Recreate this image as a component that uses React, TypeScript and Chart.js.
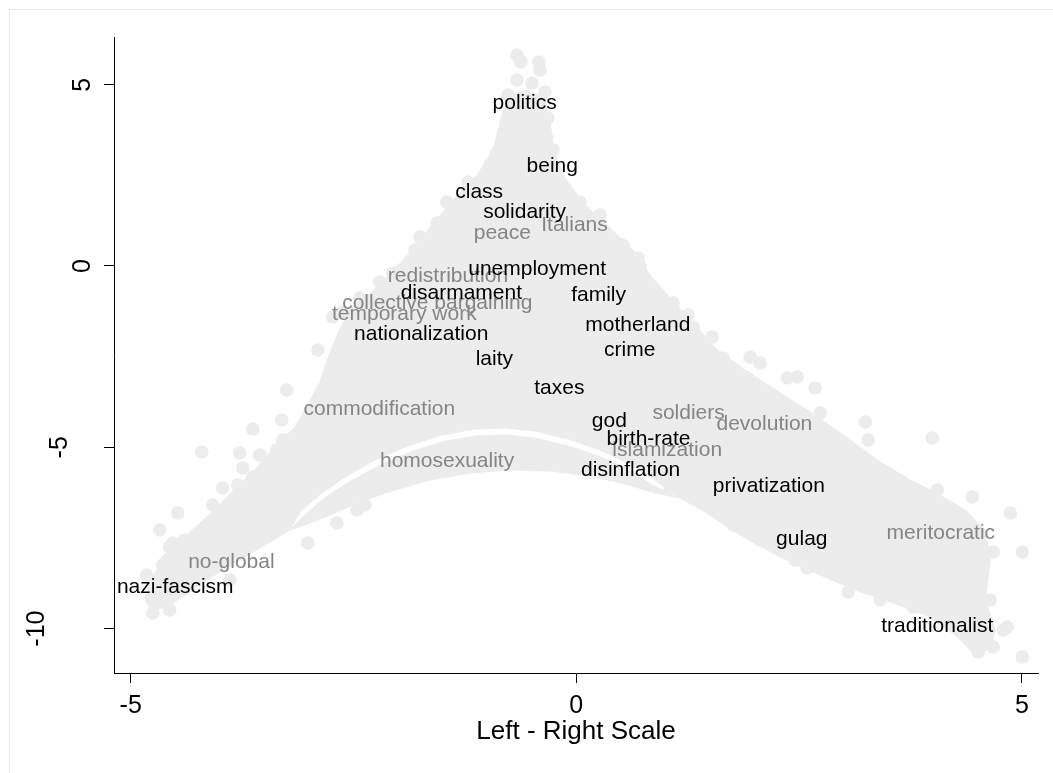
import React, { useEffect, useRef } from "react";
import { Chart, registerables } from "chart.js";

Chart.register(...registerables);

// ---------- data ----------
const xTicks = [-5, 0, 5];
const yTicks = [-10, -5, 0, 5];
const xTitle = "Left - Right Scale";

// highlighted words
const wordText = [
  "politics", "being", "class", "solidarity", "Italians", "peace", "unemployment",
  "redistribution", "disarmament", "family", "collective bargaining", "temporary work",
  "nationalization", "motherland", "crime", "laity", "taxes", "commodification", "god",
  "soldiers", "devolution", "birth-rate", "islamization", "homosexuality", "disinflation",
  "privatization", "gulag", "meritocratic", "traditionalist", "no-global", "nazi-fascism",
];
const wordX = [
  -0.58, -0.27, -1.09, -0.58, -0.02, -0.83, -0.44, -1.44, -1.29, 0.25, -1.56, -1.93,
  -1.74, 0.69, 0.6, -0.92, -0.19, -2.21, 0.37, 1.26, 2.11, 0.81, 1.02, -1.45, 0.61,
  2.16, 2.53, 4.09, 4.05, -3.87, -4.5,
];
const wordY = [
  4.49, 2.76, 2.03, 1.48, 1.13, 0.9, -0.08, -0.29, -0.74, -0.81, -1.03, -1.32, -1.88,
  -1.63, -2.32, -2.56, -3.36, -3.95, -4.29, -4.06, -4.37, -4.77, -5.07, -5.38, -5.63,
  -6.07, -7.54, -7.36, -9.93, -8.18, -8.86,
];
const wordGrey = [
  0, 0, 0, 0, 1, 1, 0, 1, 0, 0, 1, 1, 0, 0, 0, 0, 0, 1, 0, 1, 1, 0, 1, 1, 0, 0, 0, 1, 0, 1, 0,
];

// dense part of the word cloud (outline of the solid region)
const coreX = [
  -0.823, -0.767, -0.554, -0.351, -0.295, -0.262, -0.127, 0.098, 0.378, 0.637, 0.827, 1.074,
  1.333, 1.557, 1.894, 2.287, 2.68, 3.073, 3.41, 3.747, 4.083, 4.364, 4.589, 4.645, 4.589,
  4.701, 4.645, 4.443, 4.252, 3.915, 3.522, 3.129, 2.736, 2.287, 1.838, 1.445, 1.164, 0.884,
  0.603, 0.266, -0.093, -0.464, -0.8, -1.137, -1.508, -1.89, -2.26, -2.597, -2.9, -3.102,
  -3.214, -3.495, -3.776, -4.056, -4.337, -4.562, -4.764, -4.842, -4.764, -4.607, -4.393,
  -4.112, -3.866, -3.607, -3.383, -3.158, -3.012, -2.878, -2.788, -2.675, -2.541, -2.294,
  -2.069, -1.845, -1.62, -1.362, -1.104, -0.935, -0.823,
];
const coreY = [
  4.247, 4.688, 4.854, 4.633, 4.026, 3.254, 2.427, 1.682, 1.048, 0.441, -0.248, -0.938,
  -1.627, -2.261, -2.868, -3.502, -4.109, -4.799, -5.405, -5.902, -6.315, -6.729, -7.281,
  -8.108, -9.211, -10.039, -10.59, -10.645, -10.176, -9.625, -9.266, -8.935, -8.522, -8.025,
  -7.419, -6.784, -6.398, -5.902, -5.461, -5.074, -4.771, -4.55, -4.468, -4.495, -4.661,
  -4.964, -5.35, -5.819, -6.343, -6.784, -7.281, -7.694, -8.108, -8.522, -8.991, -9.349,
  -9.542, -9.156, -8.605, -8.025, -7.474, -6.839, -6.233, -5.626, -4.992, -4.44, -3.833,
  -3.199, -2.537, -1.848, -1.213, -0.717, -0.165, 0.441, 1.131, 1.875, 2.537, 3.199, 4.247,
];

// thin lower band of the cloud, below the empty arc
const bandX = [
  -3.214, -3.035, -2.81, -2.53, -2.193, -1.833, -1.463, -1.115, -0.778, -0.441, -0.093,
  0.244, 0.558, 0.85, 1.164, 0.884, 0.547, 0.154, -0.295, -0.744, -1.193, -1.643, -2.035,
  -2.428, -2.765, -3.046, -3.214,
];
const bandY = [
  -7.281, -6.839, -6.371, -5.929, -5.488, -5.102, -4.826, -4.688, -4.661, -4.757, -4.964,
  -5.24, -5.571, -6.04, -6.398, -6.26, -6.012, -5.791, -5.654, -5.626, -5.709, -5.902,
  -6.178, -6.508, -6.867, -7.143, -7.281,
];

// individual words around the fringe of the cloud
const dotX = [
  -0.666, -0.621, -0.419, -0.408, -0.666, -0.497, -0.351, -0.767, -0.666, -0.318, -0.329,
  -0.722, -0.823, -0.262, -0.969, -0.89, -0.576, -0.464,
  -1.216, -1.452, -1.564, -1.755, -1.811, -2.058, -2.204, -2.428, -2.619, -2.732, -2.597,
  -2.9, -2.574, -2.765, -3.248, -3.304, -3.63, -3.293, -4.202, -3.776, -3.551, -3.36,
  -3.742, -3.63, -3.967, -3.798, -4.079, -4.472, -4.674, -4.191, -4.562, -4.393, -4.64,
  -4.82, -4.696, -4.562, -4.752, -3.888, -3.012, -2.687, -2.462, -2.372, -4.584, -4.528,
  -0.071, 0.042, 0.266, 0.524, 0.693, 0.715, 0.94, 1.086, 1.254, 1.31, 1.524, 1.479, 1.647,
  1.95, 2.062, 1.726, 1.916, 2.366, 2.478, 2.68, 2.175, 2.287, 2.736, 2.759, 3.241, 3.993,
  3.275, 3.264, 3.039, 3.657, 4.05, 4.443, 4.869, 5.004, 4.678, 4.308, 4.162, 4.005, 3.825,
  3.05, 3.78, 4.005, 4.162, 4.499, 4.645, 4.51, 4.791, 4.678, 4.51, 5.004, 4.836, 3.41,
  1.052, 1.389, 1.647, 1.759, 2.287, 2.455, 2.59, 2.062,
];
const dotY = [
  5.819, 5.626, 5.626, 5.405, 5.13, 5.047, 4.799, 4.716, 4.026, 4.082, 3.558, 3.668, 3.282,
  3.199, 2.785, 3.116, 4.357, 4.578,
  2.317, 1.765, 1.186, 0.8, 0.441, -0.193, -0.441, -0.883, -1.269, -1.407, -2.041, -2.317,
  -2.537, -3.144, -3.42, -4.247, -4.495, -4.799, -5.13, -5.157, -5.212, -5.074, -5.571,
  -5.819, -6.122, -6.04, -6.591, -6.812, -7.281, -7.281, -7.75, -7.556, -8.246, -8.522,
  -9.211, -9.487, -9.57, -8.66, -7.639, -7.088, -6.729, -6.591, -8.108, -7.639,
  1.737, 1.765, 1.407, 0.579, 0.221, 0, -0.855, -1.02, -1.351, -1.682, -1.958, -2.317,
  -2.537, -2.51, -2.675, -3.282, -3.089, -3.089, -3.061, -3.365, -3.613, -3.778, -4.054,
  -4.523, -4.302, -4.744, -4.799, -5.35, -5.543, -6.095, -6.178, -6.371, -6.812, -7.887,
  -7.887, -7.75, -8.025, -6.536, -6.646, -8.991, -9.404, -9.404, -9.018, -8.742, -9.211,
  -9.404, -10.039, -10.507, -10.645, -10.783, -9.956, -9.211,
  -6.095, -6.453, -6.867, -7.143, -7.832, -8.108, -8.329, -7.556,
];

// ---------- style ----------
const FONT = '"Liberation Sans", Arial, Helvetica, sans-serif';
const CLOUD = "#ececec";
const GREY_TEXT = "#858585";

const pts = (xs: number[], ys: number[]) => xs.map((x, i) => ({ x, y: ys[i] }));

const framePlugin = {
  id: "frame",
  beforeDraw(chart: any) {
    const { ctx, width, height } = chart;
    ctx.save();
    ctx.fillStyle = "#ffffff";
    ctx.fillRect(0, 0, width, height);
    ctx.fillStyle = "#e8e8e8";
    ctx.fillRect(9, 9, width - 9, 1);
    ctx.fillRect(9, 9, 1, height - 9);
    ctx.restore();
  },
};

const yLabelPlugin = {
  id: "yLabels",
  afterDraw(chart: any) {
    const ys = chart.scales.y;
    const ctx = chart.ctx;
    ctx.save();
    ctx.font = `25px ${FONT}`;
    ctx.fillStyle = "#000";
    ctx.textAlign = "center";
    ctx.textBaseline = "middle";
    for (const v of yTicks) {
      const label = String(v);
      const py = ys.getPixelForValue(v);
      const cx = ys.right - 8 - 23 * label.length;
      ctx.save();
      ctx.translate(cx, py);
      ctx.rotate(-Math.PI / 2);
      ctx.fillText(label, 0, 0);
      ctx.restore();
    }
    ctx.restore();
  },
};

const wordPlugin = {
  id: "words",
  afterDatasetsDraw(chart: any) {
    const meta = chart.getDatasetMeta(3);
    const ctx = chart.ctx;
    ctx.save();
    ctx.font = `21px ${FONT}`;
    ctx.textAlign = "center";
    ctx.textBaseline = "middle";
    for (const pass of [1, 0]) {
      ctx.fillStyle = pass ? GREY_TEXT : "#000";
      wordText.forEach((w, i) => {
        if (wordGrey[i] !== pass) return;
        const el = meta.data[i];
        ctx.fillText(w, el.x, el.y);
      });
    }
    ctx.restore();
  },
};

export default function App() {
  const ref = useRef<HTMLCanvasElement | null>(null);

  useEffect(() => {
    if (!ref.current) return;
    const chart = new Chart(ref.current, {
      type: "line",
      data: {
        datasets: [
          {
            label: "cloud core",
            data: pts(coreX, coreY),
            fill: "shape",
            backgroundColor: CLOUD,
            borderColor: CLOUD,
            borderWidth: 1,
            pointRadius: 0,
            tension: 0,
          },
          {
            label: "cloud band",
            data: pts(bandX, bandY),
            fill: "shape",
            backgroundColor: CLOUD,
            borderColor: CLOUD,
            borderWidth: 1,
            pointRadius: 0,
            tension: 0,
          },
          {
            label: "words",
            data: pts(dotX, dotY),
            showLine: false,
            pointRadius: 6.8,
            pointBackgroundColor: CLOUD,
            pointBorderWidth: 0,
            pointBorderColor: CLOUD,
          },
          {
            label: "labelled words",
            data: pts(wordX, wordY),
            showLine: false,
            pointRadius: 0,
          },
        ],
      } as any,
      options: {
        animation: false,
        responsive: false,
        devicePixelRatio: 1,
        events: [],
        layout: { padding: { left: 0, top: 37, right: 15, bottom: 0 } },
        plugins: { legend: { display: false }, tooltip: { enabled: false } },
        scales: {
          x: {
            type: "linear",
            min: -5.187,
            max: 5.18,
            afterBuildTicks: (s: any) => {
              s.ticks = xTicks.map((v) => ({ value: v }));
            },
            afterFit: (s: any) => {
              s.height = 100;
            },
            grid: {
              display: true,
              drawOnChartArea: false,
              drawTicks: true,
              tickLength: 10,
              color: "#000",
              lineWidth: 1,
            },
            border: { display: true, color: "#000", width: 1 },
            ticks: {
              color: "#000",
              font: { family: FONT, size: 25 },
              padding: 8,
              maxRotation: 0,
              minRotation: 0,
              callback: (v: any) => String(v),
            },
            title: {
              display: true,
              text: xTitle,
              color: "#000",
              font: { family: FONT, size: 26 },
              padding: { top: 0, bottom: 26 },
            },
          },
          y: {
            type: "linear",
            min: -11.224,
            max: 6.315,
            afterBuildTicks: (s: any) => {
              s.ticks = yTicks.map((v) => ({ value: v }));
            },
            afterFit: (s: any) => {
              s.width = 114;
            },
            grid: {
              display: true,
              drawOnChartArea: false,
              drawTicks: true,
              tickLength: 10,
              color: "#000",
              lineWidth: 1,
            },
            border: { display: true, color: "#000", width: 1 },
            ticks: { display: false },
          },
        },
      } as any,
      plugins: [framePlugin, yLabelPlugin, wordPlugin],
    });
    return () => chart.destroy();
  }, []);

  return (
    <div style={{ position: "fixed", left: 0, top: 0, width: 1053, height: 773, background: "#fff" }}>
      <canvas ref={ref} width={1053} height={773} style={{ display: "block", width: 1053, height: 773 }} />
    </div>
  );
}
